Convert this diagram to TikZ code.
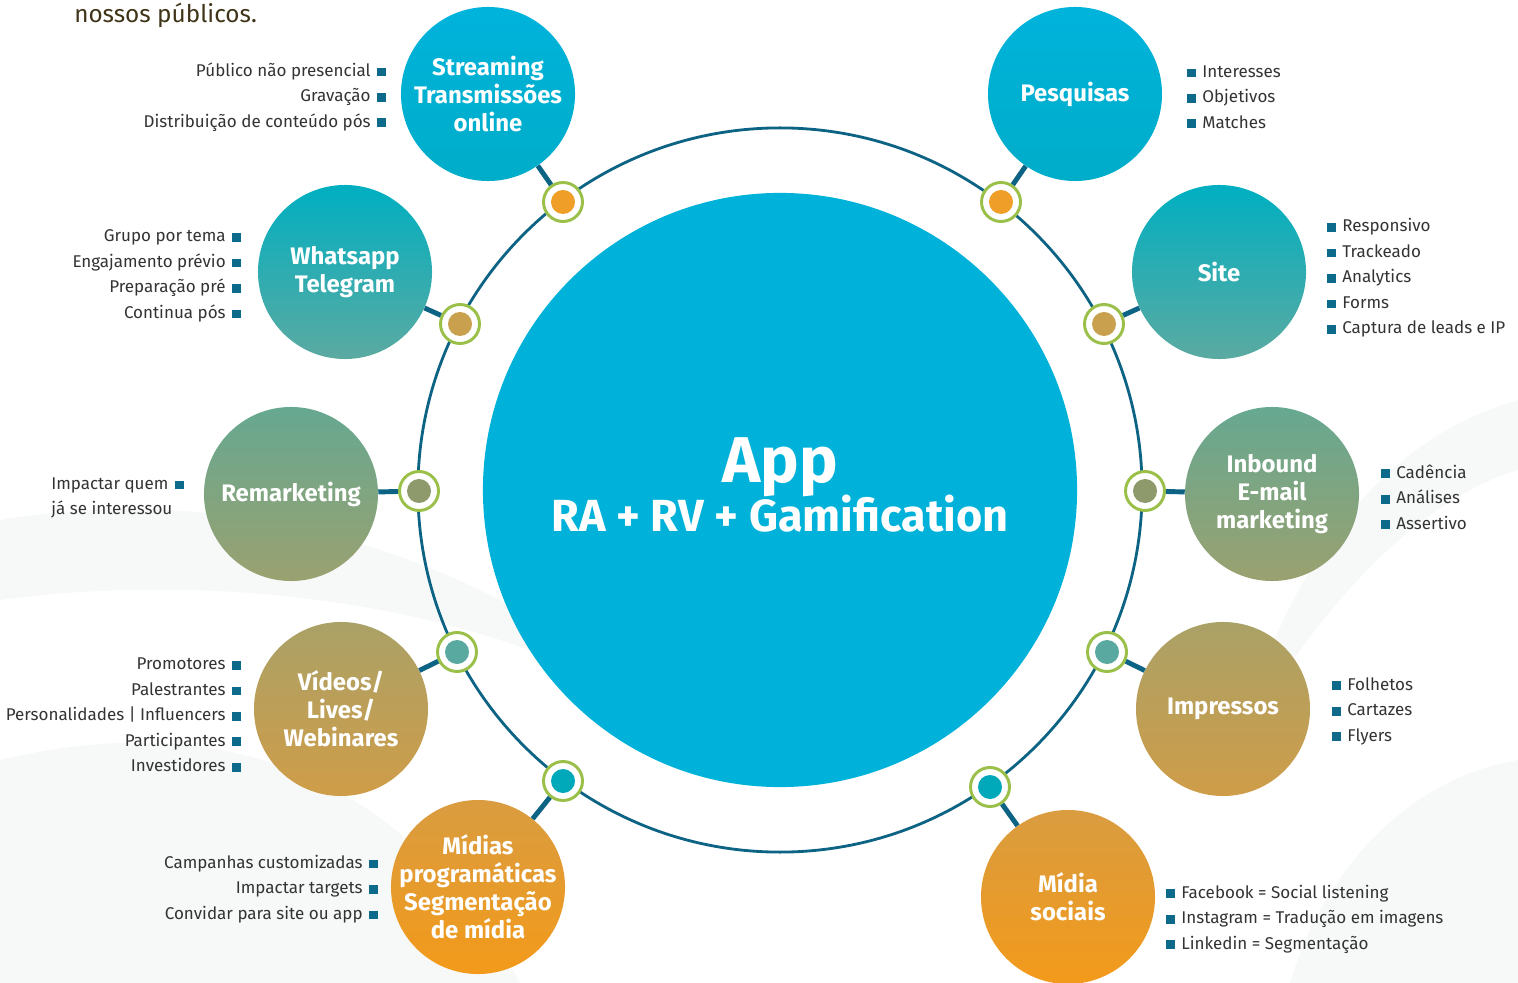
\documentclass[tikz,border=0pt]{standalone}
\usepackage{fontspec}
\setmainfont{Fira Sans}
\usetikzlibrary{positioning}

\definecolor{ringline}{HTML}{0D6383}
\definecolor{bulletcol}{HTML}{0E6A8A}
\definecolor{hubring}{HTML}{9BC04A}
\definecolor{listgray}{HTML}{333333}
\definecolor{headbrown}{HTML}{3F3417}
\definecolor{appcyan}{HTML}{00B2D9}
\definecolor{wavegray}{HTML}{F7F8F8}
% gradient pairs, top to bottom of the figure
\definecolor{cyanT}{HTML}{00B3DB}   \definecolor{cyanB}{HTML}{00ADC9}
\definecolor{tealT}{HTML}{00AFC1}   \definecolor{tealB}{HTML}{5BAAA1}
\definecolor{sageT}{HTML}{66A891}   \definecolor{sageB}{HTML}{9AA170}
\definecolor{oliveT}{HTML}{AAA167}  \definecolor{oliveB}{HTML}{CF9D48}
\definecolor{amberT}{HTML}{D99C40}  \definecolor{amberB}{HTML}{F39A1A}
% hub fills
\definecolor{hubA}{HTML}{EF9E27}
\definecolor{hubB}{HTML}{C9A04E}
\definecolor{hubC}{HTML}{8E9A6C}
\definecolor{hubD}{HTML}{5AA9A0}
\definecolor{hubE}{HTML}{00A9BA}

\newcommand{\sq}{\textcolor{bulletcol}{\rule{6.2pt}{6.2pt}}}
\newcommand{\lsq}{\hspace{4.5pt}\sq}
\newcommand{\rsq}{\sq\hspace{4.5pt}}

\begin{document}
\begin{tikzpicture}[x=0.025cm,y=-0.025cm,
    topic/.style 2 args={circle, minimum size=4.35cm, inner sep=-14pt,
      top color=#1, bottom color=#2, text=white, align=center,
      font=\bfseries\fontsize{17}{20}\selectfont},
    hub/.style={circle, draw=hubring, line width=2.1pt, fill=white,
      minimum size=0.975cm, inner sep=0pt,
      path picture={\fill[#1] (path picture bounding box.center) circle[radius=0.3cm];}},
    link/.style={ringline, line width=3.5pt},
    ring/.style={ringline, line width=2pt},
    list/.style={text=listgray, inner sep=0pt, font=\fontsize{12.1}{18.1}\selectfont}]
  \useasboundingbox (0,0) rectangle (1518,983);
  % faint background waves
  \fill[wavegray] (0,520) .. controls (300,470) and (560,600) .. (720,760)
    .. controls (600,640) and (300,560) .. (0,600) -- cycle;
  \fill[wavegray] (0,760) .. controls (250,700) and (420,800) .. (520,983)
    -- (0,983) -- cycle;
  \fill[wavegray] (1518,400) .. controls (1380,440) and (1290,560) .. (1230,760)
    .. controls (1320,600) and (1420,500) .. (1518,470) -- cycle;
  \fill[wavegray] (1518,760) .. controls (1400,780) and (1320,880) .. (1290,983)
    -- (1518,983) -- cycle;

  \node[anchor=base west, text=headbrown, inner sep=0pt,
    font=\fontsize{17.3}{20}\selectfont] (head) at (74,23) {nossos públicos.};

  % ring around the app
  \coordinate (mid) at (780,490);
  \draw[ring] (mid) circle[radius=9.05cm];
  \node[circle, fill=appcyan, minimum size=14.85cm, inner sep=0pt] (app) at (mid) {};
  \node[anchor=base, text=white, inner sep=0pt,
    font=\bfseries\fontsize{46}{46}\selectfont] (apptitle) at (780,483) {App};
  \node[anchor=base, text=white, inner sep=0pt,
    font=\bfseries\fontsize{32}{32}\selectfont] (appsub) at (780,531) {RA + RV + Gamification};

  % topics
  \node[topic={cyanT}{cyanB}] (stream) at (488,94) {Streaming\\Transmissões\\online};
  \node[topic={cyanT}{cyanB}] (pesq) at (1075,94) {Pesquisas};
  \node[topic={tealT}{tealB}] (whats) at (345,272) {Whatsapp\\Telegram};
  \node[topic={tealT}{tealB}] (site) at (1219,272) {Site};
  \node[topic={sageT}{sageB}] (remark) at (291,494) {Remarketing};
  \node[topic={sageT}{sageB}] (inbound) at (1272,494) {Inbound\\E-mail\\marketing};
  \node[topic={oliveT}{oliveB}] (videos) at (341,709) {Vídeos/\\Lives/\\Webinares};
  \node[topic={oliveT}{oliveB}] (impress) at (1223,709) {Impressos};
  \node[topic={amberT}{amberB}] (midprog) at (478,887) {Mídias\\programáticas\\Segmentação\\de mídia};
  \node[topic={amberT}{amberB}] (midsoc) at (1068,897) {Mídia\\sociais};

  % hubs on the ring
  \node[hub=hubA] (h1) at (563,202) {};
  \node[hub=hubA] (h2) at (1001,202) {};
  \node[hub=hubB] (h3) at (460,324) {};
  \node[hub=hubB] (h4) at (1104,324) {};
  \node[hub=hubC] (h5) at (419,491) {};
  \node[hub=hubC] (h6) at (1145,491) {};
  \node[hub=hubD] (h7) at (457,652) {};
  \node[hub=hubD] (h8) at (1107,652) {};
  \node[hub=hubE] (h9) at (563,781) {};
  \node[hub=hubE] (h10) at (990,787) {};

  % links hub -> topic
  \draw[link] (h1) -- (stream);
  \draw[link] (h2) -- (pesq);
  \draw[link] (h3) -- (whats);
  \draw[link] (h4) -- (site);
  \draw[link] (h5) -- (remark);
  \draw[link] (h6) -- (inbound);
  \draw[link] (h7) -- (videos);
  \draw[link] (h8) -- (impress);
  \draw[link] (h9) -- (midprog);
  \draw[link] (h10) -- (midsoc);

  % left lists
  \node[list, anchor=east, align=right] (streamlist) at (386,97)
    {Público não presencial\lsq\\Gravação\lsq\\Distribuição de conteúdo pós\lsq};
  \node[list, anchor=east, align=right] (whatslist) at (241,276)
    {Grupo por tema\lsq\\Engajamento prévio\lsq\\Preparação pré\lsq\\Continua pós\lsq};
  \node[list, anchor=west, align=left] (remarklist) at (51,498)
    {Impactar quem\lsq\\já se interessou};
  \node[list, anchor=east, align=right] (videolist) at (241,715)
    {Promotores\lsq\\Palestrantes\lsq\\Personalidades | Influencers\lsq\\Participantes\lsq\\Investidores\lsq};
  \node[list, anchor=east, align=right] (proglist) at (378,889)
    {Campanhas customizadas\lsq\\Impactar targets\lsq\\Convidar para site ou app\lsq};
  % right lists
  \node[list, anchor=west, align=left] (pesqlist) at (1187,97)
    {\rsq Interesses\\\rsq Objetivos\\\rsq Matches};
  \node[list, anchor=west, align=left] (sitelist) at (1327,278)
    {\rsq Responsivo\\\rsq Trackeado\\\rsq Analytics\\\rsq Forms\\\rsq Captura de leads e IP};
  \node[list, anchor=west, align=left] (inblist) at (1381,497)
    {\rsq Cadência\\\rsq Análises\\\rsq Assertivo};
  \node[list, anchor=west, align=left] (implist) at (1332,711)
    {\rsq Folhetos\\\rsq Cartazes\\\rsq Flyers};
  \node[list, anchor=west, align=left] (soclist) at (1166,919)
    {\rsq Facebook = Social listening\\\rsq Instagram = Tradução em imagens\\\rsq Linkedin = Segmentação};
\end{tikzpicture}
\end{document}
